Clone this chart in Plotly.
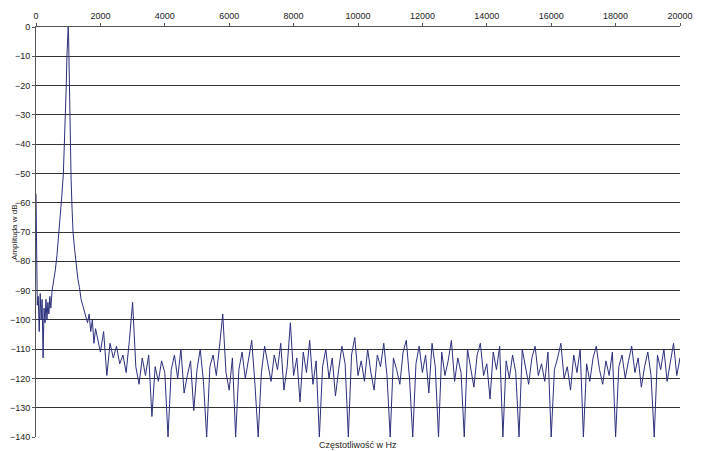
import plotly.graph_objects as go

# low band around the 1 kHz tone (Hz, dB)
peak_freq = [0, 15, 40, 70, 100, 130, 160, 190, 220, 250, 280, 310, 340, 370, 400, 430, 460, 500,
             550, 600, 650, 700, 750, 800, 850, 880, 910, 940, 960, 980, 990, 1000, 1010, 1020,
             1040, 1060, 1090, 1120, 1150, 1200, 1250, 1300, 1350, 1400, 1450, 1500, 1550, 1600,
             1650, 1700, 1750, 1800, 1850]
peak_db = [-57, -88, -95, -92, -104, -91, -100, -93, -113, -96, -101, -93, -100, -94, -98, -92, -96, -90,
           -87, -83, -78, -72, -65, -58, -50, -42, -32, -20, -10, -3, 0, 0, -2, -9,
           -25, -38, -52, -62, -70, -76, -82, -86, -89, -93, -95, -97, -99, -101, -98, -104, -100, -108, -103]

# noise floor, every 100 Hz from 1900 Hz
floor_start = 1900
floor_step = 100
floor_db = [-106, -111, -104, -119, -108, -113, -109, -115, -112, -118, -107, -94, -116, -122, -113, -119,
            -112, -133, -116, -121, -114, -118, -140, -117, -112, -120, -110, -125, -119, -114, -131, -117,
            -110, -121, -140, -116, -112, -119, -109, -98, -118, -124, -113, -140, -117, -111, -120, -114,
            -107, -122, -140, -118, -109, -115, -121, -112, -117, -108, -124, -116, -101, -119, -113, -128,
            -111, -118, -107, -122, -114, -140, -116, -110, -120, -113, -126, -117, -109, -115, -140, -112,
            -106, -119, -114, -121, -110, -118, -124, -112, -116, -108, -119, -140, -113, -117, -122, -111,
            -107, -120, -140, -115, -109, -118, -112, -125, -108, -116, -140, -111, -119, -114, -107, -121,
            -113, -118, -140, -110, -116, -123, -112, -108, -119, -115, -127, -111, -117, -109, -140, -114,
            -120, -112, -118, -140, -110, -116, -122, -113, -109, -119, -115, -121, -111, -140, -117, -113,
            -108, -120, -116, -124, -112, -118, -110, -140, -115, -121, -113, -109, -117, -122, -114, -119,
            -111, -140, -116, -112, -120, -114, -109, -118, -113, -123, -116, -111, -119, -140, -112, -117,
            -110, -121, -114, -108, -119, -113, -131, -128]

floor_freq = [floor_start + i * floor_step for i in range(len(floor_db))]
freq = peak_freq + floor_freq
db = peak_db + floor_db

fig = go.Figure(go.Scatter(x=freq, y=db, mode="lines", line=dict(color="#2b2f7c", width=1)))

fig.update_layout(
    width=697, height=443,
    margin=dict(l=28, r=25, t=19, b=14),
    paper_bgcolor="white", plot_bgcolor="white",
    showlegend=False,
    font=dict(family="Liberation Sans, Arial", size=9, color="#222"),
    xaxis=dict(range=[0, 20000], side="top", dtick=2000, tickformat="d", showgrid=False, zeroline=False,
               showline=True, linecolor="#555", ticks="outside", ticklen=3, tickcolor="#555",
               automargin=False),
    yaxis=dict(range=[-140, 0], dtick=10, showgrid=True, gridcolor="#333", gridwidth=1,
               zeroline=False, showline=True, linecolor="#555", ticks="outside", ticklen=3,
               tickcolor="#555", automargin=False),
    annotations=[
        dict(text="Częstotliwość w Hz", xref="paper", yref="paper", x=0.5, y=0,
             yanchor="top", yshift=-1, showarrow=False, font=dict(size=9)),
        dict(text="Amplituda w dB", xref="paper", yref="paper", x=0, y=0.5, xanchor="center",
             xshift=-22, textangle=-90, showarrow=False, font=dict(size=8)),
    ],
)

fig.write_html("out.html")
